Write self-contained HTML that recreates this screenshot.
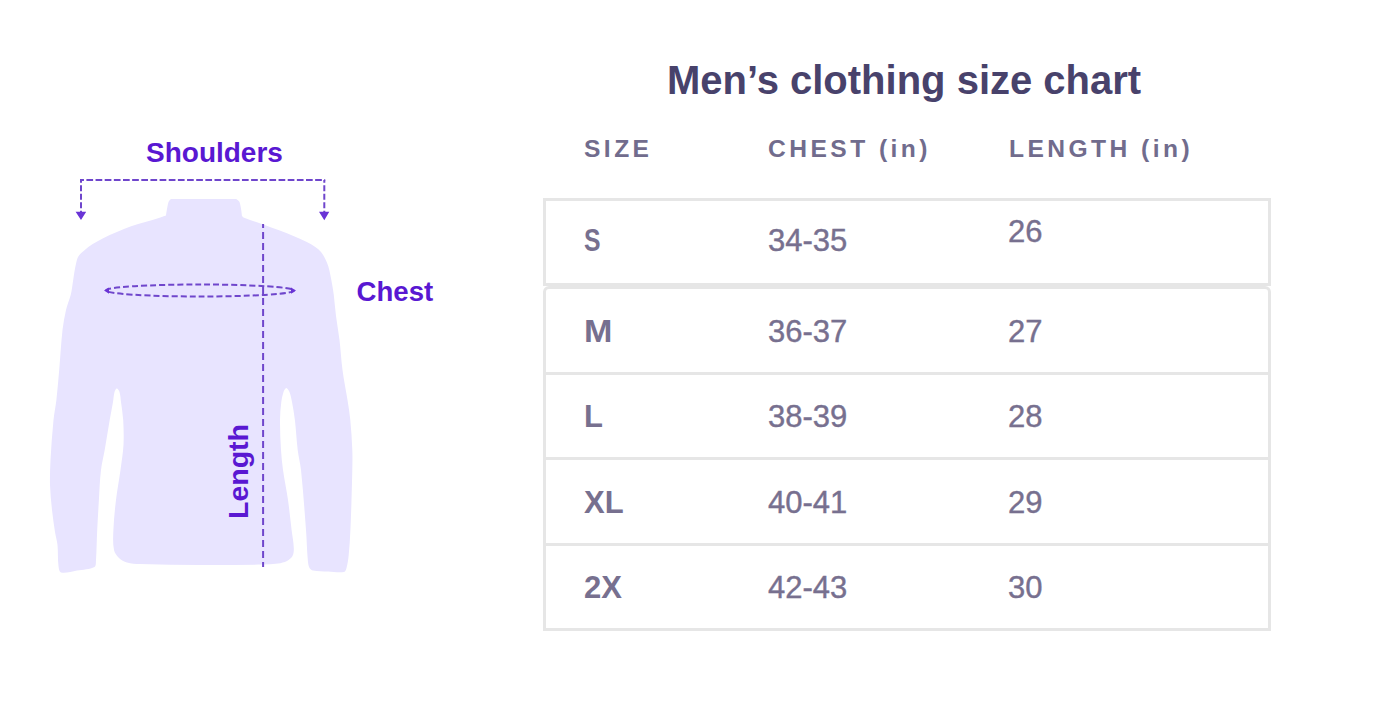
<!DOCTYPE html>
<html><head><meta charset="utf-8">
<style>
html,body{margin:0;padding:0;background:#fff;}
body{width:1400px;height:703px;position:relative;overflow:hidden;font-family:"Liberation Sans",sans-serif;}
.t{position:absolute;line-height:1;white-space:nowrap;}
.lbl{color:#5918d2;font-weight:bold;font-size:28px;}
.title{left:667px;top:60px;font-size:40px;font-weight:bold;color:#48426b;}
.hd{top:136.5px;font-size:24.6px;font-weight:bold;color:#716c8d;letter-spacing:3.45px;}
.sz{font-size:31px;font-weight:bold;color:#77708f;}
.num{font-size:31px;color:#77708f;-webkit-text-stroke:0.4px #77708f;}
.box{position:absolute;box-sizing:border-box;border:3px solid #e6e6e6;}
.hl{position:absolute;left:543px;width:728px;height:3px;background:#e6e6e6;}
</style></head><body>
<svg width="1400" height="703" style="position:absolute;left:0;top:0">
  <path d="M171 199 C171.0 199.0 236.0 199.0 236 199 C236.0 199.0 239.0 200.6 239.5 202 C241.0 206.3 242.0 216.0 242 216 C242.0 216.0 243.3 217.5 244.2 217.8 C250.2 220.2 256.6 222.0 262.7 224.2 C268.4 226.3 274.1 228.4 279.8 230.6 C284.6 232.4 289.3 234.3 294 236.3 C298.3 238.1 302.6 239.9 306.8 242 C309.7 243.5 312.6 245.0 315.3 246.9 C317.4 248.3 319.4 250.0 321 251.9 C322.7 254.0 324.1 256.5 325.3 259 C326.5 261.3 327.4 263.7 328.2 266.1 C329.1 268.9 329.7 271.8 330.3 274.7 C331.1 278.4 331.7 282.2 332.4 286 C332.9 289.0 333.4 292.0 333.8 295 C334.6 302.0 335.1 309.0 336 316 C337.0 324.0 338.5 332.0 339.5 340 C340.7 350.0 341.2 360.0 342.5 370 C343.8 380.0 345.9 390.0 347.5 400 C348.5 406.7 349.7 413.3 350.3 420 C351.3 430.0 351.9 440.0 352.3 450 C352.6 456.7 352.4 463.3 352.3 470 C352.1 480.0 351.8 490.0 351.5 500 C351.2 510.0 350.9 520.0 350.4 530 C350.0 538.3 349.6 546.7 348.7 555 C348.3 559.4 347.7 563.8 346.5 568 C346.1 569.5 345.4 571.7 344 572 C339.2 572.9 333.3 571.8 328 571.5 C323.0 571.3 317.8 571.4 313 570.5 C311.6 570.2 310.1 569.2 309.5 568 C308.4 565.7 308.0 562.7 307.8 560 C306.9 550.0 306.8 540.0 306 530 C304.5 510.0 303.1 490.0 301 470 C300.3 463.3 298.5 456.7 297.7 450 C296.5 440.0 296.1 430.0 294.9 420 C294.2 414.0 293.1 408.0 292 402 C291.3 398.6 290.8 395.1 289.5 392 C288.9 390.5 287.3 388.0 286.3 388 C285.3 388.0 284.0 390.5 283.5 392 C282.4 395.2 281.7 398.6 281.3 402 C280.6 408.0 280.0 414.0 280 420 C279.9 430.0 280.4 440.0 281 450 C281.4 456.7 282.1 463.4 283 470 C284.4 480.0 286.6 490.0 288 500 C289.4 510.0 290.4 520.0 291.6 530 C292.3 536.0 293.6 542.0 293.8 548 C293.9 550.7 293.7 553.7 292.5 556 C291.4 558.1 289.1 559.9 287 561 C284.3 562.4 281.1 563.1 278 563.5 C273.1 564.2 268.0 564.4 263 564.5 C242.0 564.9 221.0 565.1 200 565 C180.0 564.9 160.0 564.7 140 564 C135.6 563.9 131.1 563.7 127 562.5 C124.1 561.7 121.1 560.1 119 558 C116.8 555.9 114.6 553.0 114 550 C112.7 543.7 113.1 536.7 113.4 530 C113.8 520.0 114.8 510.0 116 500 C117.2 490.0 119.1 480.0 120.5 470 C121.6 461.7 123.0 453.4 123.5 445 C123.9 436.7 123.7 428.3 123.2 420 C122.8 414.0 121.8 408.0 121 402 C120.6 398.7 120.5 395.1 119.5 392 C119.1 390.6 117.7 388.5 116.8 388.5 C116.0 388.5 114.9 390.7 114.5 392 C113.6 395.2 113.6 398.7 113 402 C112.0 408.0 110.7 414.0 109.7 420 C108.0 430.0 106.4 440.0 104.7 450 C103.5 456.7 101.8 463.3 101 470 C99.8 479.9 99.5 490.0 98.9 500 C98.3 510.0 97.7 520.0 97.2 530 C96.7 540.0 96.7 550.0 96 560 C95.8 562.4 96.3 566.0 94.5 567 C90.0 569.5 82.9 569.6 77 570.5 C71.7 571.4 65.3 573.5 61 572.4 C59.2 572.0 58.8 568.2 58.5 566 C57.6 559.1 58.2 552.0 57.5 545 C57.0 540.6 55.7 536.4 55 532 C53.9 524.7 52.8 517.4 52 510 C51.1 501.7 50.3 493.3 50 485 C49.8 476.7 50.1 468.3 50.5 460 C51.2 446.7 52.2 433.3 53.5 420 C54.2 413.3 55.6 406.7 56.4 400 C57.5 390.0 58.3 380.0 59.2 370 C60.4 356.7 61.0 343.3 62.5 330 C63.3 323.3 64.5 316.6 66 310 C67.2 304.9 69.3 300.0 70.7 295 C71.4 292.5 71.7 290.0 72.1 287.5 C72.9 282.7 73.4 277.9 74.2 273.2 C74.8 269.4 75.5 265.6 76.4 261.9 C76.9 259.9 77.4 257.8 78.5 256.2 C80.0 254.0 82.2 252.2 84.2 250.5 C86.9 248.2 89.7 246.0 92.7 244.1 C95.9 242.0 99.3 240.1 102.7 238.4 C107.3 236.1 112.1 234.0 116.9 232 C121.6 230.0 126.3 228.0 131.1 226.3 C135.8 224.7 140.6 223.4 145.3 222 C150.1 220.6 154.9 219.3 159.6 217.8 C161.8 217.1 166.0 215.6 166 215.6 C166.0 215.6 167.2 206.3 168.5 202 C168.9 200.8 171.0 199.0 171 199Z" fill="#e8e4ff"/>
  <g stroke="#6f46cc" stroke-width="2" fill="none">
    <path d="M80 180 H325.2" stroke-dasharray="6.7 2.45" stroke-dashoffset="2.75"/>
    <path d="M81 180 V212" stroke-dasharray="5.9 2.6" stroke-dashoffset="3.2"/>
    <path d="M324.3 180 V212" stroke-dasharray="5.9 2.6" stroke-dashoffset="3.2"/>
    <ellipse cx="200" cy="290.5" rx="94" ry="6" stroke-dasharray="6 3"/>
    <path d="M263.1 224 V567" stroke-dasharray="7 4" stroke-dashoffset="3"/>
  </g>
  <path d="M75.6 211.8 L86.2 211.8 L81 220 Z M319 211.8 L329.3 211.8 L324.3 220.3 Z M104 290.6 L109 287.5 L109 293.7 Z M296 290.6 L291 287.5 L291 293.7 Z" fill="#6a34d6"/>
</svg>
<div class="t lbl" style="left:146px;top:139px">Shoulders</div>
<div class="t lbl" style="left:356.5px;top:277.5px;font-size:27.6px">Chest</div>
<div class="t lbl" style="left:224px;top:518.5px;font-size:28.5px;transform-origin:0 0;transform:rotate(-90deg)">Length</div>

<div class="t title">Men’s clothing size chart</div>
<div class="t hd" style="left:584px">SIZE</div>
<div class="t hd" style="left:768px">CHEST (in)</div>
<div class="t hd" style="left:1009px">LENGTH (in)</div>

<div class="box" style="left:543px;top:198px;width:728px;height:88px"></div>
<div class="box" style="left:543px;top:286px;width:728px;height:345px;border-radius:6px 6px 0 0"></div>
<div class="hl" style="top:372px"></div>
<div class="hl" style="top:457px"></div>
<div class="hl" style="top:543px"></div>

<div class="t sz" style="left:584px;top:225px;transform-origin:0 0;transform:scaleX(0.8)">S</div>
<div class="t num" style="left:768px;top:225px">34-35</div>
<div class="t num" style="left:1008px;top:216px">26</div>

<div class="t sz" style="left:584px;top:316px;transform-origin:0 0;transform:scaleX(1.1)">M</div>
<div class="t num" style="left:768px;top:316px">36-37</div>
<div class="t num" style="left:1008px;top:316px">27</div>

<div class="t sz" style="left:584px;top:401px">L</div>
<div class="t num" style="left:768px;top:401px">38-39</div>
<div class="t num" style="left:1008px;top:401px">28</div>

<div class="t sz" style="left:584px;top:487px">XL</div>
<div class="t num" style="left:768px;top:487px">40-41</div>
<div class="t num" style="left:1008px;top:487px">29</div>

<div class="t sz" style="left:584px;top:572px">2X</div>
<div class="t num" style="left:768px;top:572px">42-43</div>
<div class="t num" style="left:1008px;top:572px">30</div>
</body></html>
